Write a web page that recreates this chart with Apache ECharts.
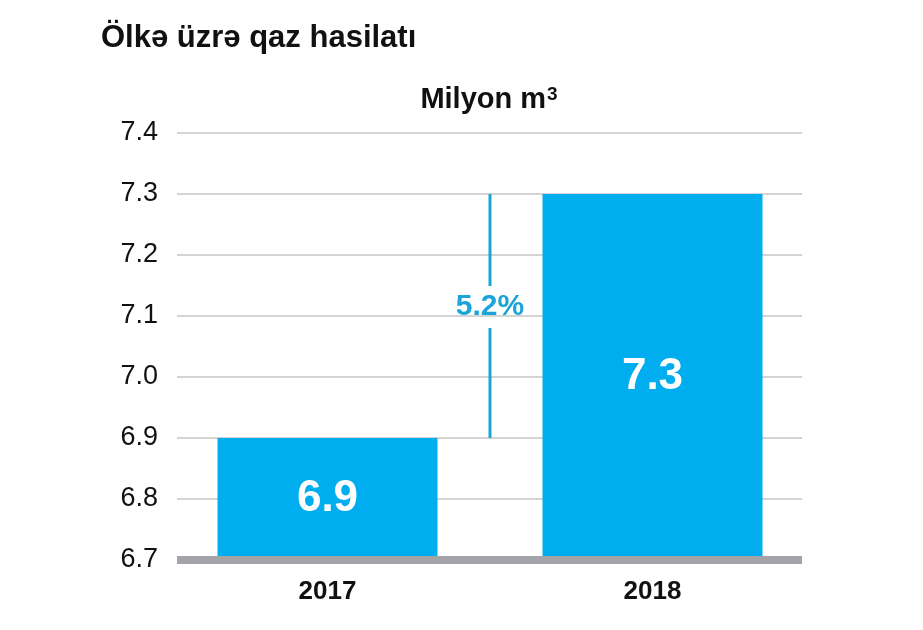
<!DOCTYPE html>
<html>
<head>
<meta charset="utf-8">
<title>Ölkə üzrə qaz hasilatı</title>
<script src="https://cdn.jsdelivr.net/npm/echarts@6/dist/echarts.min.js"></script>
<style>
  html, body { margin: 0; padding: 0; background: #fff; }
  #chart { width: 923px; height: 630px; }
</style>
</head>
<body>
<div id="chart"></div>
<script>
const years = ['2017', '2018'];
const production = [6.9, 7.3];
const changeLabel = '5.2%';
const yTicks = [6.7, 6.8, 6.9, 7.0, 7.1, 7.2, 7.3, 7.4];

const FONT = "'Liberation Sans', Arial, sans-serif";
const BAR_COLOR = '#00aeef';
const NOTE_COLOR = '#1ba4d8';

const chart = echarts.init(document.getElementById('chart'));

// vertical marker between the two bars, broken around the label
const renderChange = (params, api) => {
  const x = api.value(0);
  const top = api.coord([x, api.value(2)]);
  const bottom = api.coord([x, api.value(1)]);
  const labelY = (top[1] + bottom[1]) / 2 - 9;
  const gap = 21;
  const style = { stroke: NOTE_COLOR, lineWidth: 3 };
  return {
    type: 'group',
    children: [
      { type: 'line', shape: { x1: top[0], y1: top[1], x2: top[0], y2: labelY - gap }, style },
      { type: 'line', shape: { x1: top[0], y1: labelY + gap, x2: top[0], y2: bottom[1] }, style },
      {
        type: 'text',
        x: top[0],
        y: labelY,
        style: {
          text: changeLabel,
          fill: NOTE_COLOR,
          font: 'bold 30px ' + FONT,
          align: 'center',
          verticalAlign: 'middle',
        },
      },
    ],
  };
};

chart.setOption({
  animation: false,
  textStyle: { fontFamily: FONT },
  title: [
    {
      text: 'Ölkə üzrə qaz hasilatı',
      left: 96,
      top: 18,
      textStyle: { fontSize: 31, fontWeight: 'bold', color: '#111', fontFamily: FONT },
    },
    {
      text: 'Milyon m{sup|3}',
      left: 484,
      textAlign: 'center',
      top: 80,
      textStyle: {
        fontSize: 29,
        fontWeight: 'bold',
        color: '#111',
        fontFamily: FONT,
        rich: {
          sup: {
            fontSize: 19,
            fontWeight: 'bold',
            color: '#111',
            fontFamily: FONT,
            verticalAlign: 'top',
            padding: [0, 0, 10, 1],
          },
        },
      },
    },
  ],
  grid: [
    { left: 177, right: 121, top: 133, bottom: 70 },
    { left: 165, right: 108, top: 133, bottom: 70 },
  ],
  xAxis: [
    {
      type: 'category',
      gridIndex: 0,
      data: years,
      z: 5,
      axisLine: { show: true, lineStyle: { color: '#a3a3a8', width: 8, cap: 'butt' } },
      axisTick: { show: false },
      axisLabel: { show: false },
    },
    {
      type: 'category',
      gridIndex: 1,
      data: years,
      axisLine: { show: false },
      axisTick: { show: false },
      axisLabel: { margin: 19, fontSize: 26, fontWeight: 'bold', color: '#111', fontFamily: FONT },
    },
    {
      type: 'value',
      gridIndex: 1,
      min: -0.5,
      max: years.length - 0.5,
      show: false,
    },
  ],
  yAxis: [
    {
      type: 'value',
      gridIndex: 0,
      min: yTicks[0],
      max: yTicks[yTicks.length - 1],
      interval: 0.1,
      axisLine: { show: false },
      axisTick: { show: false },
      axisLabel: {
        margin: 19,
        fontSize: 27,
        color: '#111',
        fontFamily: FONT,
        padding: [6, 0, 0, 0],
        formatter: (v) => v.toFixed(1),
      },
      splitLine: { lineStyle: { color: '#c6c6c6', width: 1.5 } },
    },
    {
      type: 'value',
      gridIndex: 1,
      min: yTicks[0],
      max: yTicks[yTicks.length - 1],
      show: false,
    },
  ],
  series: [
    {
      type: 'bar',
      xAxisIndex: 1,
      yAxisIndex: 1,
      data: production,
      barWidth: 220,
      itemStyle: { color: BAR_COLOR },
      label: {
        show: true,
        position: 'inside',
        color: '#fff',
        fontSize: 44,
        fontWeight: 'bold',
        fontFamily: FONT,
        formatter: (p) => p.value.toFixed(1),
      },
    },
    {
      type: 'custom',
      xAxisIndex: 2,
      yAxisIndex: 1,
      renderItem: renderChange,
      data: [[(0 + years.length - 1) / 2, production[0], production[1]]],
      z: 3,
    },
  ],
});

window.addEventListener('resize', () => chart.resize());
</script>
</body>
</html>
